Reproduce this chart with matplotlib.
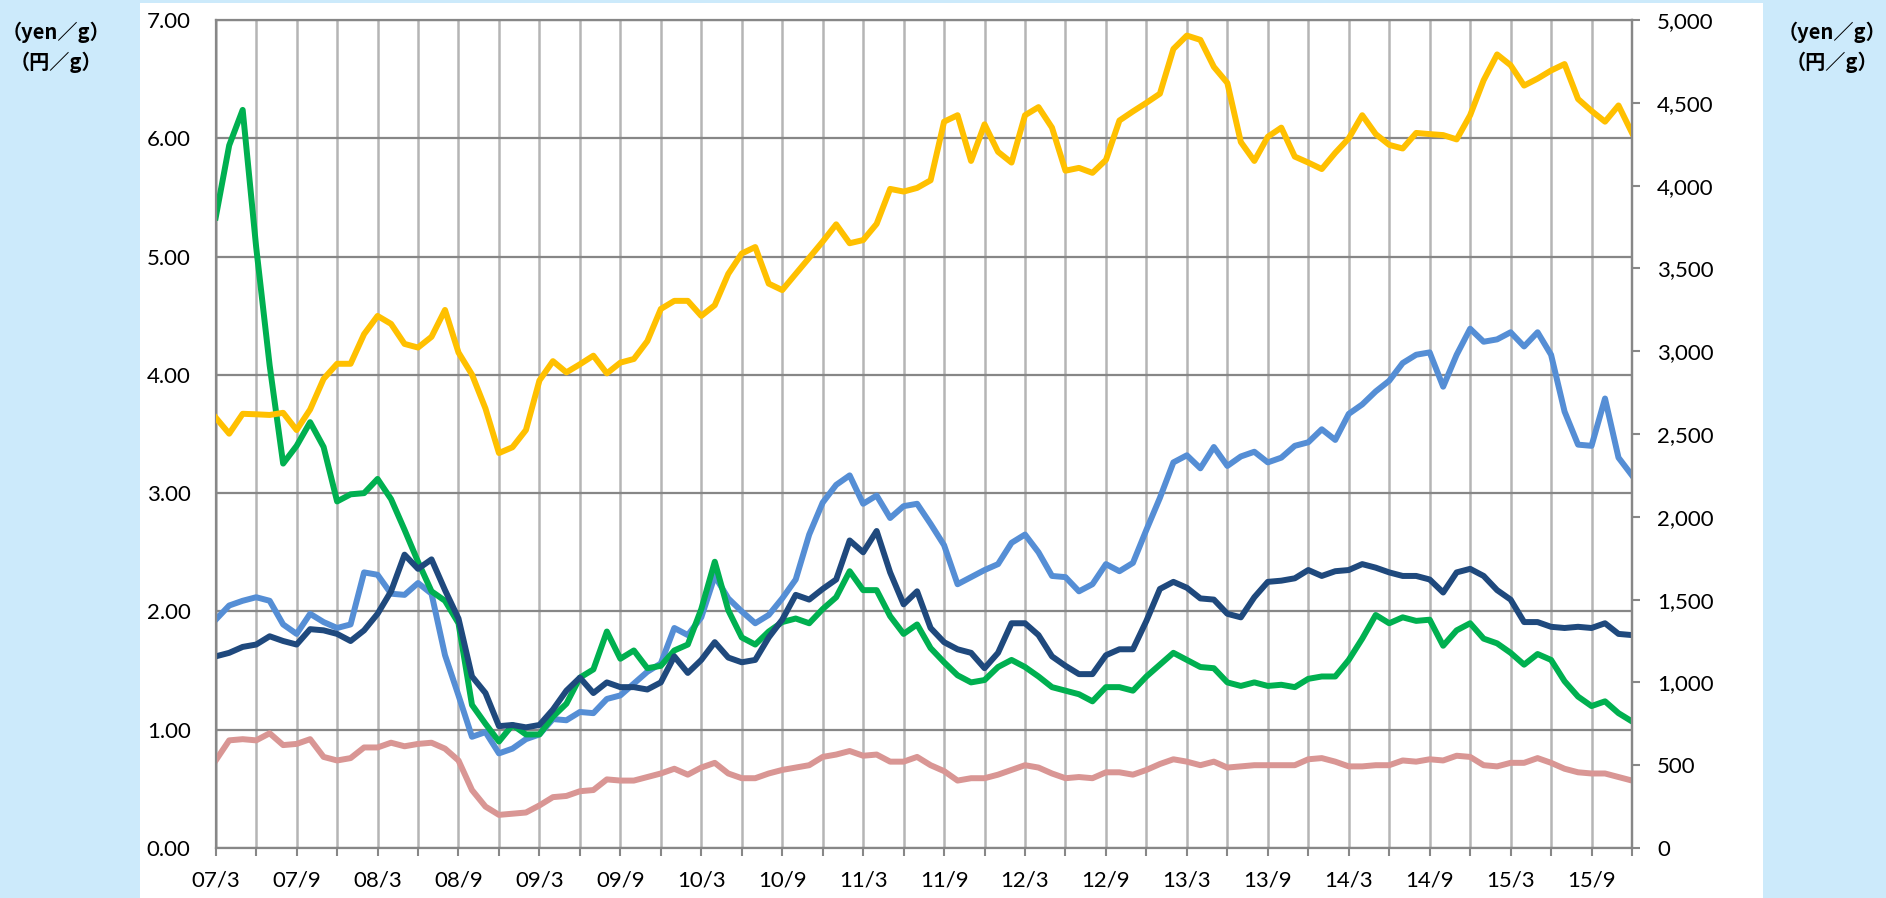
import numpy as np
import matplotlib.pyplot as plt
from matplotlib.patches import Rectangle
from matplotlib.ticker import FuncFormatter

# monthly data, 2007/3 .. 2015/12
gold = [2599, 2502, 2622, 2619, 2615, 2628, 2524, 2648, 2833, 2924, 2924, 3103, 3213, 3165, 3044, 3022,
        3087, 3249, 2992, 2859, 2654, 2385,
        2420, 2524, 2823, 2940, 2872, 2921, 2973, 2866, 2931, 2953, 3061, 3255, 3304, 3304, 3213, 3278,
        3467, 3590, 3629, 3408, 3369,
        3467, 3564, 3662, 3766, 3652, 3671, 3769, 3980, 3964, 3986, 4032, 4386, 4425, 4149, 4370, 4204,
        4139, 4425, 4474, 4350, 4090,
        4107, 4077, 4155, 4393, 4448, 4500, 4555, 4825, 4906, 4880, 4717, 4620, 4263, 4149, 4295, 4350,
        4175, 4139, 4100, 4198, 4285,
        4425, 4311, 4246, 4224, 4318, 4311, 4305, 4279, 4425, 4636, 4792, 4727, 4604, 4646, 4695, 4734,
        4523, 4451, 4386, 4484, 4318]

green = [5.33, 5.94, 6.24, 5.08, 4.08, 3.25, 3.40, 3.60, 3.39, 2.93, 2.99, 3.00, 3.12, 2.95, 2.69, 2.42,
         2.17, 2.09, 1.90, 1.21, 1.05, 0.90,
         1.04, 0.96, 0.96, 1.11, 1.22, 1.44, 1.51, 1.83, 1.60, 1.67, 1.52, 1.54, 1.67, 1.72, 2.02, 2.42,
         2.01, 1.78, 1.72, 1.83, 1.91,
         1.94, 1.90, 2.02, 2.12, 2.34, 2.18, 2.18, 1.96, 1.81, 1.89, 1.69, 1.57, 1.46, 1.40, 1.42, 1.53,
         1.59, 1.53, 1.45, 1.36, 1.33,
         1.30, 1.24, 1.36, 1.36, 1.33, 1.45, 1.55, 1.65, 1.59, 1.53, 1.52, 1.40, 1.37, 1.40, 1.37, 1.38,
         1.36, 1.43, 1.45, 1.45, 1.59,
         1.77, 1.97, 1.90, 1.95, 1.92, 1.93, 1.71, 1.84, 1.90, 1.77, 1.73, 1.65, 1.55, 1.64, 1.59, 1.41,
         1.28, 1.20, 1.24, 1.14, 1.07]

light_blue = [1.93, 2.05, 2.09, 2.12, 2.09, 1.89, 1.81, 1.98, 1.91, 1.86, 1.89, 2.33, 2.31, 2.15, 2.14, 2.24,
              2.15, 1.63, 1.29, 0.94, 0.98, 0.80,
              0.84, 0.92, 0.96, 1.09, 1.08, 1.15, 1.14, 1.26, 1.29, 1.39, 1.49, 1.56, 1.86, 1.80, 1.95, 2.30,
              2.11, 2.00, 1.90, 1.97, 2.11,
              2.27, 2.65, 2.92, 3.07, 3.15, 2.91, 2.98, 2.79, 2.89, 2.91, 2.74, 2.56, 2.23, 2.29, 2.35, 2.40,
              2.58, 2.65, 2.50, 2.30, 2.29,
              2.17, 2.23, 2.40, 2.34, 2.41, 2.69, 2.96, 3.26, 3.32, 3.21, 3.39, 3.23, 3.31, 3.35, 3.26, 3.30,
              3.40, 3.43, 3.54, 3.45, 3.67,
              3.75, 3.86, 3.95, 4.10, 4.17, 4.19, 3.90, 4.17, 4.39, 4.28, 4.30, 4.36, 4.24, 4.36, 4.17, 3.69,
              3.41, 3.40, 3.80, 3.30, 3.15]

navy = [1.62, 1.65, 1.70, 1.72, 1.79, 1.75, 1.72, 1.85, 1.84, 1.81, 1.75, 1.84, 1.98, 2.17, 2.48, 2.36,
        2.44, 2.18, 1.94, 1.45, 1.31, 1.03,
        1.04, 1.02, 1.04, 1.17, 1.33, 1.44, 1.31, 1.40, 1.36, 1.36, 1.34, 1.40, 1.62, 1.48, 1.59, 1.74,
        1.61, 1.57, 1.59, 1.78, 1.93,
        2.14, 2.10, 2.19, 2.27, 2.60, 2.50, 2.68, 2.33, 2.06, 2.17, 1.86, 1.74, 1.68, 1.65, 1.52, 1.65,
        1.90, 1.90, 1.80, 1.62, 1.54,
        1.47, 1.47, 1.63, 1.68, 1.68, 1.92, 2.19, 2.25, 2.20, 2.11, 2.10, 1.98, 1.95, 2.12, 2.25, 2.26,
        2.28, 2.35, 2.30, 2.34, 2.35,
        2.40, 2.37, 2.33, 2.30, 2.30, 2.27, 2.16, 2.33, 2.36, 2.30, 2.18, 2.10, 1.91, 1.91, 1.87, 1.86,
        1.87, 1.86, 1.90, 1.81, 1.80]

pink = [0.74, 0.91, 0.92, 0.91, 0.97, 0.87, 0.88, 0.92, 0.77, 0.74, 0.76, 0.85, 0.85, 0.89, 0.86, 0.88,
        0.89, 0.84, 0.74, 0.49, 0.35, 0.28,
        0.29, 0.30, 0.36, 0.43, 0.44, 0.48, 0.49, 0.58, 0.57, 0.57, 0.60, 0.63, 0.67, 0.62, 0.68, 0.72,
        0.63, 0.59, 0.59, 0.63, 0.66,
        0.68, 0.70, 0.77, 0.79, 0.82, 0.78, 0.79, 0.73, 0.73, 0.77, 0.70, 0.65, 0.57, 0.59, 0.59, 0.62,
        0.66, 0.70, 0.68, 0.63, 0.59,
        0.60, 0.59, 0.64, 0.64, 0.62, 0.66, 0.71, 0.75, 0.73, 0.70, 0.73, 0.68, 0.69, 0.70, 0.70, 0.70,
        0.70, 0.75, 0.76, 0.73, 0.69,
        0.69, 0.70, 0.70, 0.74, 0.73, 0.75, 0.74, 0.78, 0.77, 0.70, 0.69, 0.72, 0.72, 0.76, 0.72, 0.67,
        0.64, 0.63, 0.63, 0.60, 0.57]

x_labels = ['07/3', '07/9', '08/3', '08/9', '09/3', '09/9', '10/3', '10/9', '11/3',
            '11/9', '12/3', '12/9', '13/3', '13/9', '14/3', '14/9', '15/3', '15/9']

months = np.arange(len(gold))

W, H = 1886, 898
fig = plt.figure(figsize=(W / 100, H / 100), dpi=100, facecolor='#cceafb')
panel = Rectangle((140 / W, 0), (1763 - 140) / W, 895 / H, transform=fig.transFigure,
                  facecolor='white', edgecolor='none', zorder=-10)
fig.add_artist(panel)

ax = fig.add_axes([215.7 / W, 50 / H, (1632 - 215.7) / W, 828 / H])
ax.set_facecolor('white')
ax.set_axisbelow(True)

lw = 4.3
ax.plot(months, pink, color='#d99694', lw=lw, solid_joinstyle='round')
ax.plot(months, light_blue, color='#558ed5', lw=lw, solid_joinstyle='round')
ax.plot(months, green, color='#00b050', lw=lw, solid_joinstyle='round')
ax.plot(months, navy, color='#1f497d', lw=lw, solid_joinstyle='round')

ax.set_xlim(0, len(gold) - 1)
ax.set_ylim(0, 7)
ax.set_yticks(np.arange(0, 8, 1))
ax.yaxis.set_major_formatter(FuncFormatter(lambda v, p: f'{v:.2f}'))
ax.set_xticks(np.arange(0, len(gold) - 1, 6))
ax.set_xticklabels(x_labels)
ax.set_xticks(np.arange(3, len(gold), 6), minor=True)

ax.grid(axis='y', color='#878787', lw=1.6)
ax.grid(axis='x', which='both', color='#b5b5b5', lw=1.8)

tick_font = dict(family='Lato', size=16)
for lab in ax.get_xticklabels() + ax.get_yticklabels():
    lab.set_fontfamily(tick_font['family'])
    lab.set_fontsize(tick_font['size'])
ax.tick_params(axis='y', length=0, pad=18)
ax.tick_params(axis='x', which='both', length=6, width=1.5, color='#878787', pad=10)

for s in ['left', 'bottom', 'top', 'right']:
    ax.spines[s].set_color('#878787')
    ax.spines[s].set_linewidth(1.6)

ax2 = ax.twinx()
ax2.plot(months, gold, color='#ffc000', lw=lw, solid_joinstyle='round')
ax2.set_ylim(0, 5000)
ax2.set_yticks(np.arange(0, 5001, 500))
ax2.yaxis.set_major_formatter(FuncFormatter(lambda v, p: f'{int(v):,}'))
for lab in ax2.get_yticklabels():
    lab.set_fontfamily(tick_font['family'])
    lab.set_fontsize(tick_font['size'])
ax2.tick_params(axis='y', length=6, width=1.5, color='#878787', pad=12)
for s in ['left', 'bottom', 'top']:
    ax2.spines[s].set_visible(False)
ax2.spines['right'].set_color('#878787')
ax2.spines['right'].set_linewidth(1.6)

unit_font = dict(family=['Noto Sans CJK JP', 'DejaVu Sans'], size=14.5, fontweight='bold',
                 ha='center', va='center')
for xc in [56, 1832]:
    fig.text(xc / W, 1 - 32 / H, '（yen／g）', **unit_font)
    fig.text(xc / W, 1 - 62 / H, '（円／g）', **unit_font)

fig.savefig('out.png', dpi=100, facecolor=fig.get_facecolor())
